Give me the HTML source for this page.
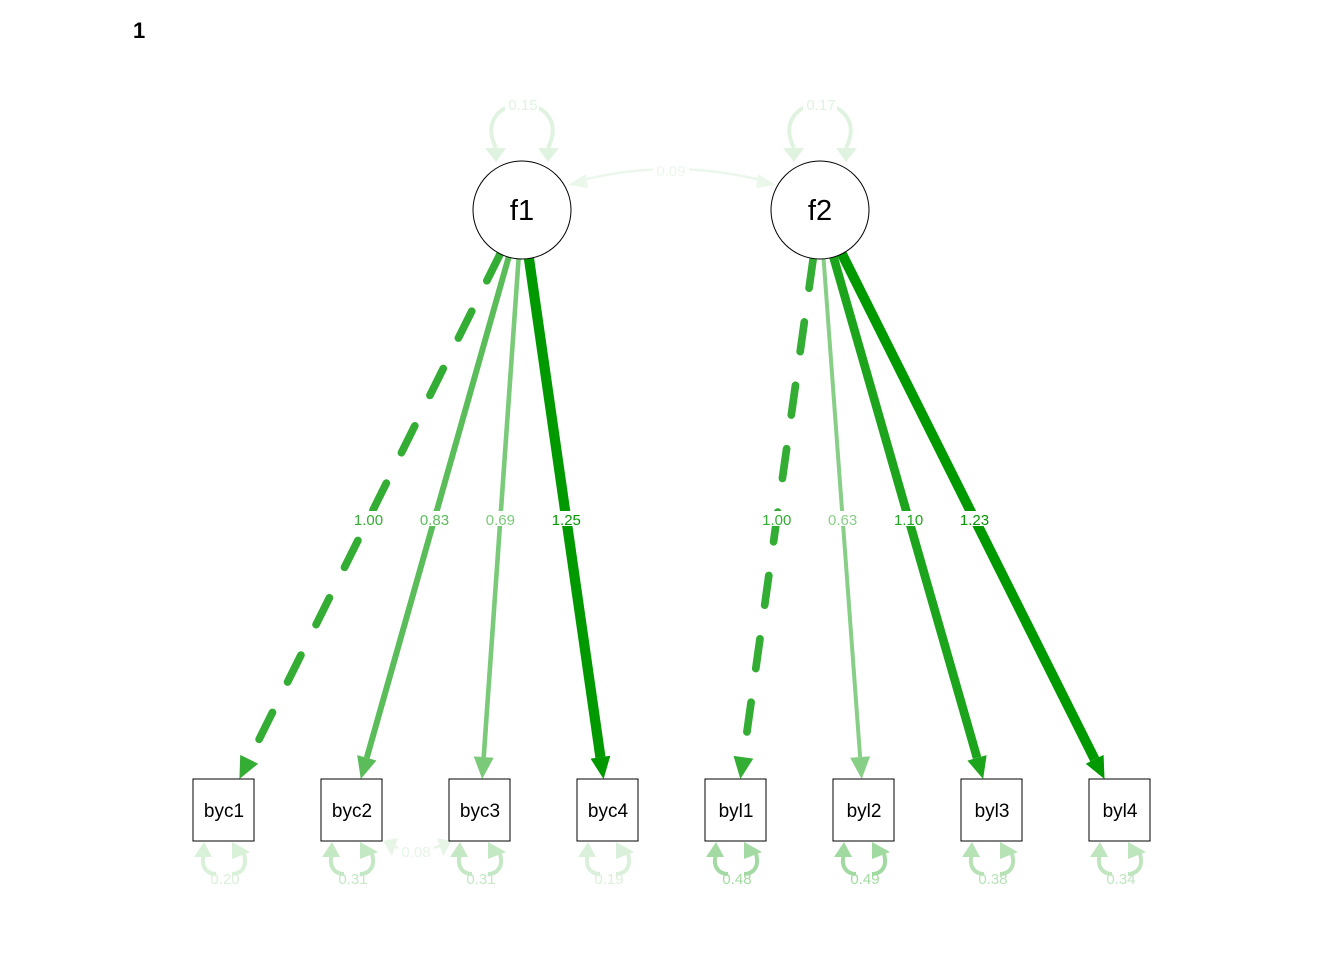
<!DOCTYPE html>
<html><head><meta charset="utf-8"><style>
html,body{margin:0;padding:0;background:#fff;}
svg{display:block;font-family:"Liberation Sans",Arial,sans-serif;}
</style></head><body>
<svg id="sem" width="1344" height="960" viewBox="0 0 1344 960">
<text x="133" y="38" font-size="22" font-weight="bold">1</text>
<g id="edges"></g><g id="nodes"></g><g id="labels"></g>
</svg>
<script>
const indicators = ["byc1","byc2","byc3","byc4","byl1","byl2","byl3","byl4"];
const factorOf = [0,0,0,0,1,1,1,1];
const loadings = [1.00,0.83,0.69,1.25,1.00,0.63,1.10,1.23];
const fixedFirst = [true,false,false,false,true,false,false,false];
const residuals = [0.20,0.31,0.31,0.19,0.48,0.49,0.38,0.34];
const factors = ["f1","f2"];
const factorVar = [0.15,0.17];
const factorCov = 0.09;
const residCov = 0.08;

const NS="http://www.w3.org/2000/svg";
const gE=document.getElementById('edges'),gN=document.getElementById('nodes'),gL=document.getElementById('labels');
function mk(tag,attrs,parent){const e=document.createElementNS(NS,tag);for(const k in attrs)e.setAttribute(k,attrs[k]);parent.appendChild(e);return e;}
function mix(f){f=Math.min(1,Math.max(0,f));const r=Math.round(255*(1-f)),g=Math.round(255-(255-153)*f);return `rgb(${r},${g},${r})`;}
function colL(v){return mix(0.47+0.89*(v-0.63));}
function colR(v){return mix(v*0.75);}
const fx=[522,820],fy=210,fr=49;
const bx=i=>224+128*i, bTop=779,bCy=810;

// loadings
indicators.forEach((n,i)=>{
  const f=factorOf[i];
  const dx0=bx(i)-fx[f],dy0=bCy-fy;
  const x2=fx[f]+dx0*(bTop-fy)/dy0, y2=bTop;
  const dx=x2-fx[f],dy=y2-fy;const L=Math.hypot(dx,dy);
  const x1=fx[f]+dx/L*fr,y1=fy+dy/L*fr;
  const c=colL(loadings[i]);const w=4+(loadings[i]-0.63)*10;
  const ux=dx/L,uy=dy/L,ah=22,aw=10;
  const bxp=x2-ux*ah,byp=y2-uy*ah;
  const line=mk('line',{x1:x1,y1:y1,x2:bxp,y2:byp,stroke:c,'stroke-width':w,'stroke-linecap':fixedFirst[i]?'round':'butt'},gE);
  if(fixedFirst[i])line.setAttribute('stroke-dasharray','30 34');
  
  
  const ar=mk('polygon',{points:`${x2},${y2} ${bxp-uy*aw},${byp+ux*aw} ${bxp+uy*aw},${byp-ux*aw}`,fill:c},gE);
  
  
  const t=(519-y1)/(y2-y1);const lx=x1+(x2-x1)*t;
  mk('rect',{x:lx-16,y:511,width:32,height:15,fill:'#fff'},gL);
  const tx2=mk('text',{x:lx,y:525,'font-size':15,'text-anchor':'middle',fill:c},gL);
  tx2.textContent=loadings[i].toFixed(2);
  
  
});

// residual loops
indicators.forEach((n,i)=>{
  const x=bx(i),c=colR(residuals[i]);
  const p=mk('path',{d:`M${x-20},854 C${x-24},868 ${x-16},874 ${x-8},874 M${x+20},854 C${x+24},868 ${x+16},874 ${x+8},874`,fill:'none',stroke:c,'stroke-width':4},gE);
  
  
  mk('polygon',{points:`${x-20},842 ${x-30},857 ${x-12},857`,fill:c},gE);
  mk('polygon',{points:`${x+8},842 ${x+8},859 ${x+26},852`,fill:c},gE);
  const t=mk('text',{x:x+1,y:884,'font-size':15,'text-anchor':'middle',fill:c},gL);
  t.textContent=residuals[i].toFixed(2);
  
  
});

// residual covariance byc2-byc3
{const c=mix(0.1);
 const p=mk('path',{d:`M392,846 Q416,854 440,846`,fill:'none',stroke:c,'stroke-width':2.5},gE);
 
 
 mk('polygon',{points:`383,841 398,838 392,856`,fill:c},gE);
 mk('polygon',{points:`452,841 437,838 443,856`,fill:c},gE);
 mk('rect',{x:398,y:843,width:36,height:16,fill:'#fff'},gL);
 const t=mk('text',{x:416,y:857,'font-size':15,'text-anchor':'middle',fill:c},gL);t.textContent=residCov.toFixed(2);
 
 }

// factor variances
factors.forEach((f,j)=>{
  const x=fx[j],c=mix(0.12);
  const p=mk('path',{d:`M${x-26},148 C${x-40},120 ${x-20},104 ${x},104 C${x+20},104 ${x+40},120 ${x+26},148`,fill:'none',stroke:c,'stroke-width':4},gE);
  
  
  mk('polygon',{points:`${x-26},162 ${x-37},148 ${x-16},148`,fill:c},gE);
  mk('polygon',{points:`${x+26},162 ${x+37},148 ${x+16},148`,fill:c},gE);
  mk('rect',{x:x-17,y:97,width:34,height:15,fill:'#fff'},gL);
  const t=mk('text',{x:x+1,y:110,'font-size':15,'text-anchor':'middle',fill:c},gL);t.textContent=factorVar[j].toFixed(2);
  
  
});
// factor covariance
{const c=mix(0.08);
 const p=mk('path',{d:`M575,182 Q671,156 768,182`,fill:'none',stroke:c,'stroke-width':2.5},gE);
 
 
 mk('polygon',{points:`568,185 586,174 588,188`,fill:c},gE);
 mk('polygon',{points:`776,185 758,174 756,188`,fill:c},gE);
 mk('rect',{x:653,y:163,width:36,height:15,fill:'#fff'},gL);
 const t=mk('text',{x:671,y:176,'font-size':15,'text-anchor':'middle',fill:c},gL);t.textContent=factorCov.toFixed(2);
 
 }

// nodes
factors.forEach((f,j)=>{
  const c=mk('circle',{cx:fx[j],cy:fy,r:fr,fill:'#fff',stroke:'#000','stroke-width':1},gN);
  
  
  const t=mk('text',{x:fx[j],y:fy+10,'font-size':29,'text-anchor':'middle',fill:'#000'},gN);t.textContent=f;
  
  
});
indicators.forEach((n,i)=>{
  const r=mk('rect',{x:bx(i)-31,y:bTop,width:61,height:62,fill:'#fff',stroke:'#000','stroke-width':1},gN);
  
  
  const t=mk('text',{x:bx(i),y:817,'font-size':19,'text-anchor':'middle',fill:'#000'},gN);t.textContent=n;
  
  
});
</script>
</body></html>
